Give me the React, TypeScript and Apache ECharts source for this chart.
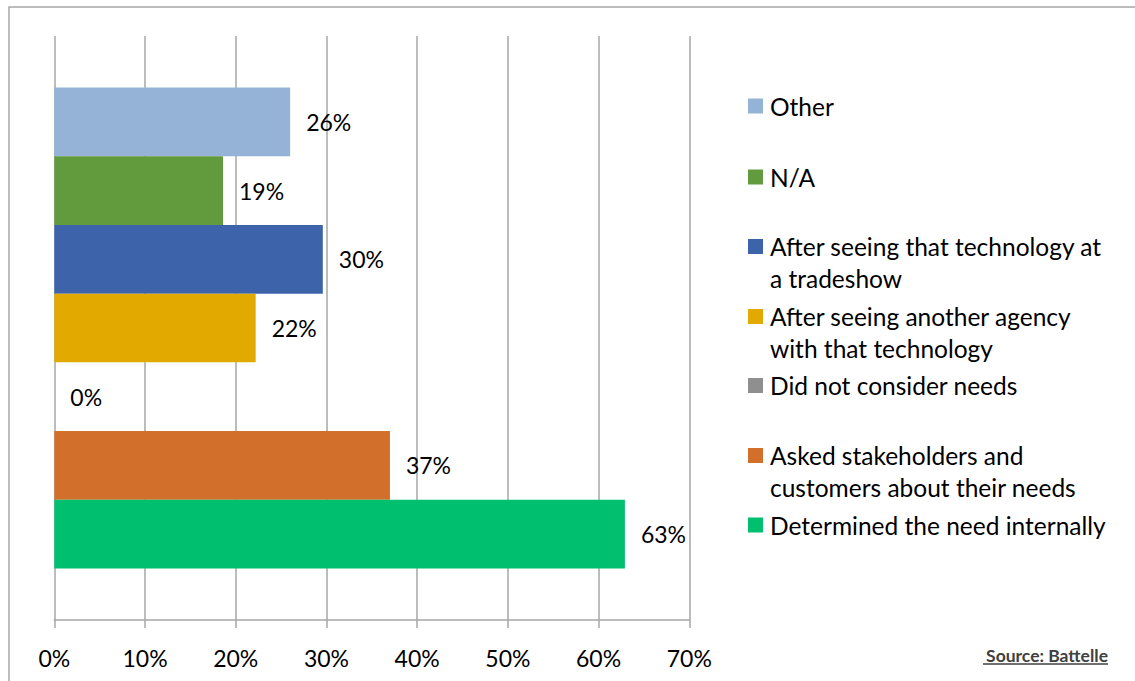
import React, { useEffect, useRef } from "react";
import * as echarts from "echarts";

const seriesNames = [
  "Other",
  "N/A",
  "After seeing that technology at a tradeshow",
  "After seeing another agency with that technology",
  "Did not consider needs",
  "Asked stakeholders and customers about their needs",
  "Determined the need internally",
];
const seriesValues = [26, 18.6, 29.6, 22.2, 0, 37, 62.9];
const seriesColors = ["#95B3D7", "#629B3E", "#3D64AB", "#E2A900", "#8F8F8F", "#D26F2B", "#00BF6F"];
const legendLines = [
  "Other",
  "N/A",
  "After seeing that technology at\na tradeshow",
  "After seeing another agency\nwith that technology",
  "Did not consider needs",
  "Asked stakeholders and\ncustomers about their needs",
  "Determined the need internally",
];
const legendCenters = [106, 177, 246.5, 316.5, 385.5, 455.5, 525];
const categories = ["All"];
const xTicks = [0, 10, 20, 30, 40, 50, 60, 70];
const sourceText = "Source: Battelle";

const FONT = "Lato";
const LH = 31.5;

export default function App() {
  const ref = useRef<HTMLDivElement>(null);
  useEffect(() => {
    if (!ref.current) return;
    const chart = echarts.init(ref.current, undefined, { renderer: "svg" });
    const legends = seriesNames.map((name, i) => {
      const twoLine = legendLines[i].includes("\n");
      return {
        data: [name],
        orient: "vertical",
        left: 748,
        top: legendCenters[i] - (twoLine ? 1.5 * LH : 0.5 * LH),
        padding: 0,
        itemWidth: 15,
        itemHeight: 15,
        itemGap: 0,
        icon: "rect",
        selectedMode: false,
        formatter: () => (twoLine ? " \n" + legendLines[i] : legendLines[i]),
        textStyle: {
          fontFamily: FONT,
          fontSize: 24.5,
          color: "#000",
          lineHeight: LH,
          padding: [0, 0, 0, 2],
        },
      };
    });
    chart.setOption({
      animation: false,
      backgroundColor: "#fff",
      grid: { left: 54.3, right: 445.7, top: 36, bottom: 61, containLabel: false },
      legend: legends,
      xAxis: {
        type: "value",
        min: xTicks[0],
        max: xTicks[xTicks.length - 1],
        interval: 10,
        axisLine: { show: true, lineStyle: { color: "#A6A6A6", width: 1.5 } },
        axisTick: { show: true, length: 8, lineStyle: { color: "#A6A6A6", width: 1.5 } },
        splitLine: { show: true, lineStyle: { color: "#A6A6A6", width: 1.5 } },
        axisLabel: {
          formatter: "{value}%",
          fontFamily: FONT,
          fontSize: 23,
          color: "#000",
          margin: 26,
        },
      },
      yAxis: {
        type: "category",
        data: categories,
        axisLine: { show: false },
        axisTick: { show: false },
        axisLabel: { show: false },
        splitLine: { show: false },
      },
      series: seriesNames.map((name, i) => ({
        type: "bar",
        name,
        data: [seriesValues[i]],
        barGap: "0%",
        barCategoryGap: "17.6%",
        itemStyle: { color: seriesColors[i] },
        label: {
          show: true,
          position: "right",
          distance: 16,
          formatter: (p: any) => Math.round(p.value) + "%",
          fontFamily: FONT,
          fontSize: 23,
          color: "#000",
        },
      })),
      graphic: [
        {
          type: "rect",
          shape: { x: 9, y: 7, width: 1300, height: 900 },
          style: { fill: "none", stroke: "#A6A6A6", lineWidth: 1.5 },
          silent: true,
        },
        {
          type: "text",
          x: 1108,
          y: 655,
          style: {
            text: sourceText,
            fontFamily: FONT,
            fontWeight: "bold",
            fontSize: 17.5,
            fill: "#404040",
            align: "right",
            verticalAlign: "middle",
          },
        },
        {
          type: "line",
          shape: { x1: 983, y1: 664, x2: 1108, y2: 664 },
          style: { stroke: "#404040", lineWidth: 1.5 },
        },
      ],
    });
    return () => chart.dispose();
  }, []);
  return (
    <div
      ref={ref}
      style={{ position: "fixed", left: 0, top: 0, width: 1135, height: 681 }}
    />
  );
}
